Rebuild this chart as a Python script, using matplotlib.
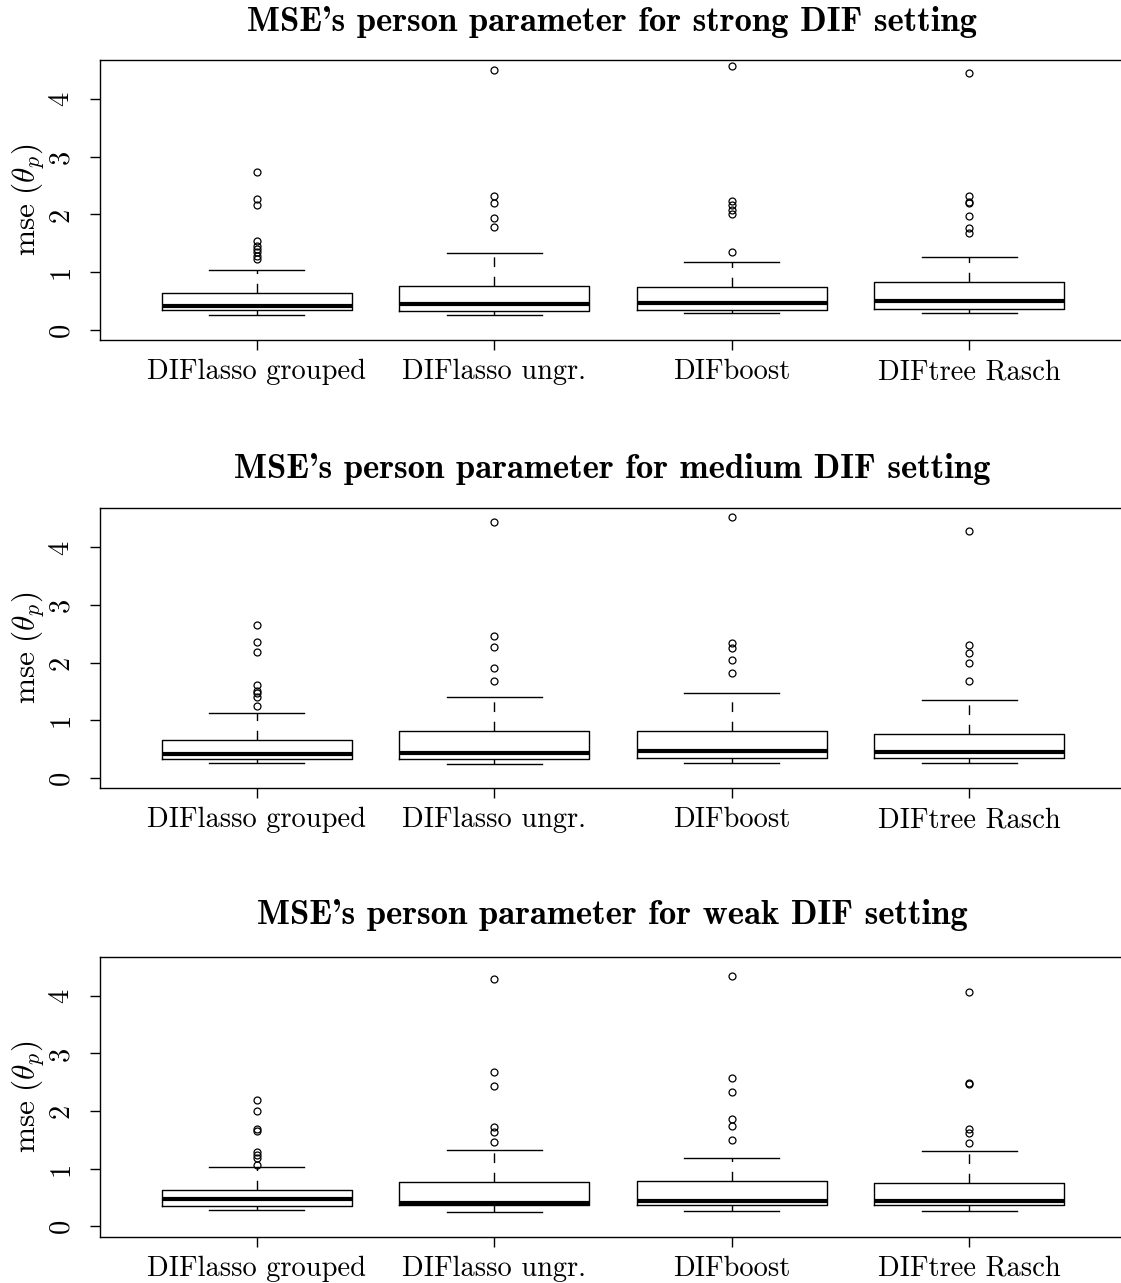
import matplotlib
matplotlib.use("Agg")
import matplotlib.pyplot as plt

plt.rcParams['font.family'] = ['cmr10', 'DejaVu Serif']
plt.rcParams['mathtext.fontset'] = 'cm'
plt.rcParams['axes.formatter.use_mathtext'] = True

methods = ["DIFlasso grouped", "DIFlasso ungr.", "DIFboost", "DIFtree Rasch"]
settings = ["strong", "medium", "weak"]

# five-number summaries per method
strong_whislo = [0.25, 0.255, 0.28, 0.28]
strong_q1 = [0.336, 0.33, 0.34, 0.35]
strong_med = [0.41, 0.45, 0.47, 0.49]
strong_q3 = [0.64, 0.765, 0.74, 0.82]
strong_whishi = [1.03, 1.33, 1.18, 1.26]
strong_fliers = [
    [1.22, 1.28, 1.34, 1.40, 1.46, 1.54, 2.17, 2.27, 2.74],
    [1.79, 1.93, 2.19, 2.32, 4.50],
    [1.35, 2.00, 2.08, 2.16, 2.24, 4.58],
    [1.68, 1.76, 1.97, 2.20, 2.21, 2.32, 4.45],
]

medium_whislo = [0.255, 0.25, 0.267, 0.267]
medium_q1 = [0.33, 0.336, 0.35, 0.354]
medium_med = [0.42, 0.43, 0.46, 0.45]
medium_q3 = [0.66, 0.81, 0.82, 0.765]
medium_whishi = [1.12, 1.41, 1.48, 1.36]
medium_fliers = [
    [1.25, 1.41, 1.47, 1.51, 1.62, 2.18, 2.36, 2.66],
    [1.68, 1.90, 2.28, 2.47, 4.44],
    [1.82, 2.04, 2.26, 2.34, 4.53],
    [1.69, 1.99, 2.16, 2.30, 4.29],
]

weak_whislo = [0.28, 0.25, 0.267, 0.26]
weak_q1 = [0.35, 0.365, 0.365, 0.37]
weak_med = [0.47, 0.41, 0.44, 0.435]
weak_q3 = [0.63, 0.765, 0.79, 0.76]
weak_whishi = [1.03, 1.32, 1.19, 1.30]
weak_fliers = [
    [1.06, 1.19, 1.23, 1.29, 1.66, 1.69, 2.00, 2.19],
    [1.46, 1.63, 1.73, 2.44, 2.68, 4.29],
    [1.50, 1.74, 1.87, 2.33, 2.57, 4.35],
    [1.45, 1.62, 1.69, 2.47, 2.49, 4.06],
]

panels = [
    (strong_whislo, strong_q1, strong_med, strong_q3, strong_whishi, strong_fliers),
    (medium_whislo, medium_q1, medium_med, medium_q3, medium_whishi, medium_fliers),
    (weak_whislo, weak_q1, weak_med, weak_q3, weak_whishi, weak_fliers),
]

W, H = 1121, 1283
fig = plt.figure(figsize=(W / 100, H / 100), dpi=100)

ax_tops = [60, 508.3, 956.7]
title_y = [22, 469, 915]
ax_h = 280
left, right = 100, 1126  # plot region runs a little past the image edge (cropped)

for k, (wlo, q1, med, q3, whi, fl) in enumerate(panels):
    top = ax_tops[k]
    ax = fig.add_axes([left / W, 1 - (top + ax_h) / H, (right - left) / W, ax_h / H])
    stats = []
    for i in range(4):
        stats.append(dict(whislo=wlo[i], q1=q1[i], med=med[i], q3=q3[i],
                          whishi=whi[i], fliers=fl[i]))
    ax.bxp(stats, positions=[1, 2, 3, 4], widths=0.8, showfliers=True,
           boxprops=dict(color='black', linewidth=1.0),
           medianprops=dict(color='black', linewidth=3.0),
           whiskerprops=dict(color='black', linewidth=1.0, linestyle=(0, (7, 7))),
           capprops=dict(color='black', linewidth=1.0),
           flierprops=dict(marker='o', markerfacecolor='none', markeredgecolor='black',
                           markersize=5, markeredgewidth=0.9),
           capwidths=0.4)
    ax.set_xlim(0.34, 4.66)
    ax.set_ylim(-0.18, 4.68)
    for s in ax.spines.values():
        s.set_linewidth(1.0)
    ax.set_yticks([0, 1, 2, 3, 4])
    ax.set_yticklabels(['0', '1', '2', '3', '4'], rotation=90, va='center')
    ax.set_xticks([1, 2, 3, 4])
    ax.set_xticklabels(methods)
    ax.tick_params(axis='both', direction='out', length=7.5, width=1.0, labelsize=20.5)
    ax.tick_params(axis='x', pad=6)
    ax.tick_params(axis='y', pad=11)
    ax.set_ylabel(r'$\mathrm{mse}\ (\theta_p)$', fontsize=22.5, labelpad=1)
    fig.text(612 / W, 1 - title_y[k] / H,
             "MSE's person parameter for " + settings[k] + " DIF setting",
             ha='center', va='center', fontsize=25, family=['cmb10', 'DejaVu Serif'])

fig.savefig("out.png", dpi=100)
